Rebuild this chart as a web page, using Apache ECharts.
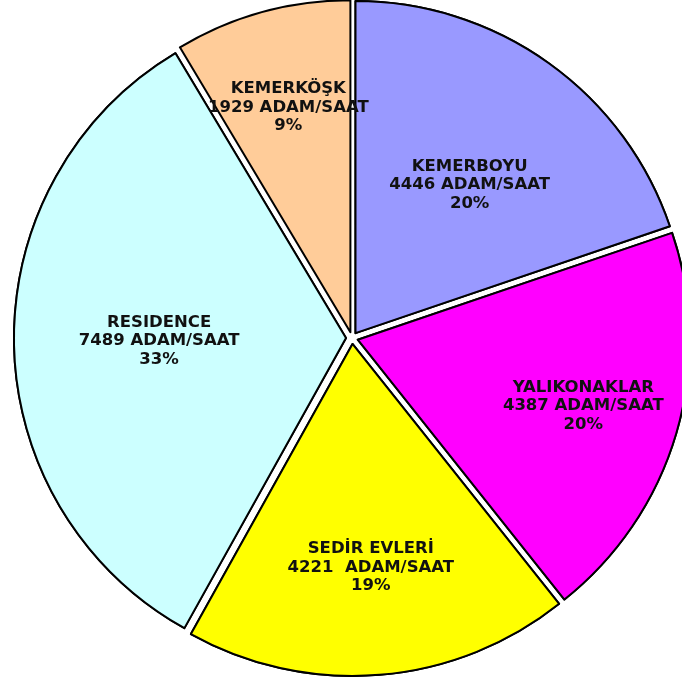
<!DOCTYPE html>
<html>
<head>
<meta charset="utf-8">
<script src="https://cdn.jsdelivr.net/npm/echarts@6/dist/echarts.min.js"></script>
<style>
html,body{margin:0;padding:0;background:#fff;}
#chart{width:682px;height:684px;}
</style>
</head>
<body>
<div id="chart"></div>
<script>
// ---- data ----
const names = ['KEMERBOYU', 'YALIKONAKLAR', 'SEDİR EVLERİ', 'RESIDENCE', 'KEMERKÖŞK'];
const values = [4446, 4387, 4221, 7489, 1929];
const valueTexts = ['4446 ADAM/SAAT', '4387 ADAM/SAAT', '4221  ADAM/SAAT', '7489 ADAM/SAAT', '1929 ADAM/SAAT'];

// ---- styles / layout ----
const colors = ['#9999FF', '#FF00FF', '#FFFF00', '#CCFFFF', '#FFCC99'];
const labelDistFrac = [0.572, 0.717, 0.684, 0.572, 0.711];
const labelAngleShift = [2, 0, 0, 0, 0]; // degrees
const CX = 352, CY = 338, R = 332, OFFSET = 6;
const CLIPPED = 4; // slice whose label is drawn beneath its neighbours

const total = values.reduce((a, b) => a + b, 0);
const midAngles = [];
let cum = 0;
values.forEach(v => { midAngles.push((cum + v / 2) / total * 2 * Math.PI); cum += v; });

function makeSeries(isBase) {
  return {
    type: 'pie',
    center: [CX, CY],
    radius: R,
    startAngle: 90,
    clockwise: true,
    selectedMode: 'multiple',
    selectedOffset: OFFSET,
    avoidLabelOverlap: false,
    silent: true,
    itemStyle: {borderColor: '#000', borderWidth: 2},
    emphasis: {disabled: true},
    label: {
      show: true,
      position: 'inside',
      fontFamily: 'DejaVu Sans',
      fontWeight: 'bold',
      fontSize: 16.5,
      lineHeight: 18.5,
      color: '#111',
      align: 'center',
      formatter: p => p.name + '\n' + valueTexts[p.dataIndex] + '\n' + Math.round(p.value / total * 100) + '%'
    },
    labelLine: {show: false},
    labelLayout: function (params) {
      const i = params.dataIndex;
      const extra = labelDistFrac[i] * R - (R / 2 + OFFSET);
      const a = midAngles[i] + labelAngleShift[i] * Math.PI / 180;
      const base = R / 2 + OFFSET;
      const tx = (base + extra) * Math.sin(a) - base * Math.sin(midAngles[i]);
      const ty = -(base + extra) * Math.cos(a) + base * Math.cos(midAngles[i]);
      return {dx: tx, dy: ty};
    },
    data: names.map((n, i) => {
      const item = {name: n, value: values[i], selected: true, itemStyle: {color: colors[i]}};
      if (isBase) {
        item.label = {show: i === CLIPPED};
      } else if (i === CLIPPED) {
        item.itemStyle = {color: 'rgba(0,0,0,0)', borderWidth: 0};
        item.label = {show: false};
      }
      return item;
    })
  };
}

const chart = echarts.init(document.getElementById('chart'), null, {renderer: 'canvas'});
chart.setOption({
  backgroundColor: '#fff',
  animation: false,
  series: [makeSeries(true), makeSeries(false)]
});
</script>
</body>
</html>
